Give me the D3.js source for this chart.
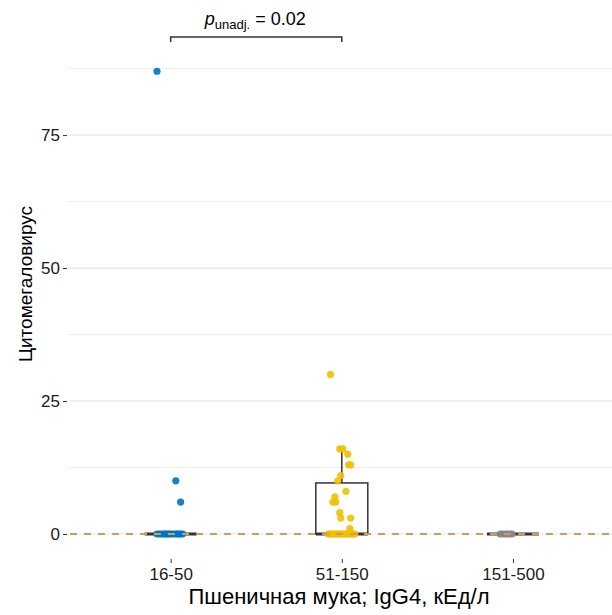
<!DOCTYPE html>
<html>
<head>
<meta charset="utf-8">
<script src="https://cdn.jsdelivr.net/npm/d3@7"></script>
<style>
  body { margin: 0; background: #fff; }
  text { font-family: "Liberation Sans", Arial, sans-serif; }
</style>
</head>
<body>
<div id="chart"></div>
<script>
// Групи та кольори (палітра JCO)
const groups = ['16-50', '51-150', '151-500']
const colors = ['#0073C2', '#EFC000', '#868686']

// Значення точок і зсув джиттера (в частках кроку категорії)
const values1 = [87, 10, 6, 0, 0, 0, 0, 0, 0, 0, 0, 0, 0, 0, 0, 0, 0]
const jitter1 = [-0.08, 0.03, 0.058, -0.08, -0.065, -0.05, -0.04, -0.03, -0.02, -0.01, 0.0, 0.015, 0.03, 0.04, 0.05, 0.06, 0.07]
const values2 = [30, 16, 16, 15, 13, 13, 11, 10, 8, 7, 6, 6, 4, 3, 3, 1,
  0, 0, 0, 0, 0, 0, 0, 0, 0, 0, 0, 0, 0, 0, 0, 0, 0]
const jitter2 = [-0.066, -0.012, 0.006, 0.035, 0.04, 0.052, -0.006, -0.024, 0.024, -0.04, -0.052, -0.035, -0.012, -0.006, 0.052, 0.047,
  -0.08, -0.07, -0.06, -0.05, -0.04, -0.03, -0.02, -0.01, 0.0, 0.01, 0.02, 0.03, 0.04, 0.05, 0.06, 0.07, 0.076]
const values3 = [0, 0, 0, 0, 0, 0]
const jitter3 = [-0.075, -0.06, -0.045, -0.03, -0.015, -0.005]

// Статистики боксплотів
const q1 = [0, 0, 0]
const med = [0, 0, 0]
const q3 = [0, 9.6, 0]
const whiskLo = [0, 0, 0]
const whiskHi = [0, 16, 0]

const yTicks = [0, 25, 50, 75]
const yMinor = [12.5, 37.5, 62.5, 87.5]
const refLine = 0
const pText = '0.02'

const W = 612
const H = 615
const svg = d3.select('#chart').append('svg')
  .attr('width', W).attr('height', H)

const x = d3.scalePoint().domain(groups).range([68, 615.6]).padding(0.6)
const step = x.step()
const y = d3.scaleLinear().domain([-4.7, 98.7]).range([559, 9])

// Сітка
svg.append('g').selectAll('line').data(yMinor).join('line')
  .attr('x1', 68).attr('x2', W)
  .attr('y1', d => y(d)).attr('y2', d => y(d))
  .attr('stroke', '#ebebeb').attr('stroke-width', 0.8)
svg.append('g').selectAll('line').data(yTicks).join('line')
  .attr('x1', 68).attr('x2', W)
  .attr('y1', d => y(d)).attr('y2', d => y(d))
  .attr('stroke', '#e6e6e6').attr('stroke-width', 1.2)

// Осі
const yAxis = svg.append('g')
  .attr('transform', 'translate(67,0)')
  .call(d3.axisLeft(y).tickValues(yTicks).tickSize(4).tickPadding(3))
yAxis.select('.domain').remove()
yAxis.selectAll('line').attr('stroke', '#333')
yAxis.selectAll('text').attr('fill', '#1a1a1a').style('font-size', '17px')

const xAxis = svg.append('g')
  .attr('transform', 'translate(0,559)')
  .call(d3.axisBottom(x).tickSize(4).tickPadding(5))
xAxis.select('.domain').remove()
xAxis.selectAll('line').attr('stroke', '#333')
xAxis.selectAll('text').attr('fill', '#1a1a1a').style('font-size', '17px')

svg.append('text')
  .attr('x', 339).attr('y', 604)
  .attr('text-anchor', 'middle')
  .style('font-size', '22px')
  .text('Пшеничная мука; IgG4, кЕд/л')

svg.append('text')
  .attr('transform', `translate(32,${284}) rotate(-90)`)
  .attr('text-anchor', 'middle')
  .style('font-size', '19px')
  .text('Цитомегаловирус')

// Боксплоти
const bw = 52
groups.forEach((g, i) => {
  const cx = x(g)
  const b = svg.append('g')
  b.append('line')
    .attr('x1', cx).attr('x2', cx)
    .attr('y1', y(q3[i])).attr('y2', y(whiskHi[i]))
    .attr('stroke', '#333').attr('stroke-width', 1.5)
  b.append('line')
    .attr('x1', cx).attr('x2', cx)
    .attr('y1', y(q1[i])).attr('y2', y(whiskLo[i]))
    .attr('stroke', '#333').attr('stroke-width', 1.5)
  b.append('rect')
    .attr('x', cx - bw / 2).attr('width', bw)
    .attr('y', y(q3[i])).attr('height', Math.max(0, y(q1[i]) - y(q3[i])))
    .attr('fill', 'none').attr('stroke', '#333').attr('stroke-width', 1.5)
  b.append('line')
    .attr('x1', cx - bw / 2).attr('x2', cx + bw / 2)
    .attr('y1', y(med[i])).attr('y2', y(med[i]))
    .attr('stroke', '#333').attr('stroke-width', 3)
})

// Точки
const allValues = [values1, values2, values3]
const allJitter = [jitter1, jitter2, jitter3]
groups.forEach((g, i) => {
  const pts = allValues[i].map((v, j) => ({ v, j: allJitter[i][j] }))
  svg.append('g').selectAll('circle').data(pts).join('circle')
    .attr('cx', d => x(g) + d.j * step)
    .attr('cy', d => y(d.v))
    .attr('r', 3.6)
    .attr('fill', colors[i])
    .attr('fill-opacity', 0.9)
})

// Опорна лінія
svg.append('line')
  .attr('x1', 68).attr('x2', W)
  .attr('y1', y(refLine)).attr('y2', y(refLine))
  .attr('stroke', '#d19a58').attr('stroke-width', 2)
  .attr('stroke-dasharray', '7,7')
  .attr('stroke-dashoffset', -2)

// Анотація значущості
const bx1 = x('16-50')
const bx2 = x('51-150')
const by = 37
svg.append('path')
  .attr('d', `M${bx1},${by + 5}V${by}H${bx2}V${by + 5}`)
  .attr('fill', 'none').attr('stroke', '#333').attr('stroke-width', 1.5)
const t = svg.append('text')
  .attr('x', (bx1 + bx2) / 2 - 1).attr('y', 25)
  .attr('text-anchor', 'middle')
  .style('font-size', '18px')
t.append('tspan').style('font-style', 'italic').text('p')
t.append('tspan').attr('dy', 4).style('font-size', '13px').text('unadj.')
t.append('tspan').attr('dy', -4).text(' = ' + pText)
</script>
</body>
</html>
